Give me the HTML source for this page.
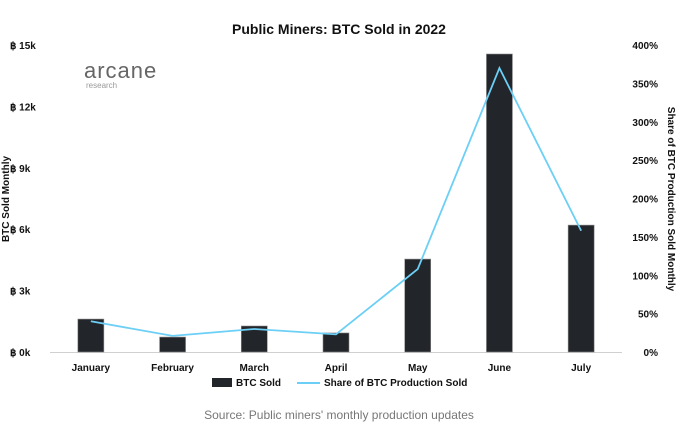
<!DOCTYPE html>
<html><head><meta charset="utf-8"><style>
body{margin:0;background:#fff;font-family:"Liberation Sans",sans-serif}
svg text{font-family:"Liberation Sans",sans-serif}
</style></head><body>
<svg width="678" height="427" id="c">
<text x="339" y="34" text-anchor="middle" font-size="14" font-weight="bold" fill="#111">Public Miners: BTC Sold in 2022</text>
<g>
<text x="84" y="78" font-size="22" fill="#666" letter-spacing="1">arcane</text>
<text x="86" y="88" font-size="8" fill="#999">research</text>
</g>
<text transform="translate(9,199) rotate(-90)" text-anchor="middle" font-size="10" font-weight="bold" fill="#111">BTC Sold Monthly</text>
<text transform="translate(668,199) rotate(90)" text-anchor="middle" font-size="10" font-weight="bold" fill="#111">Share of BTC Production Sold Monthly</text>
<g id="plot"></g>
<g>
<rect x="212" y="378" width="20" height="9" fill="#222529"/>
<text x="236" y="386" font-size="10" font-weight="bold" fill="#111">BTC Sold</text>
<line x1="297" y1="383" x2="320" y2="383" stroke="#6ccff6" stroke-width="2"/>
<text x="324" y="386" font-size="10" font-weight="bold" fill="#111">Share of BTC Production Sold</text>
</g>
<text x="339" y="419" text-anchor="middle" font-size="12" fill="#777">Source: Public miners' monthly production updates</text>
</svg>
<script>
const categories=["January","February","March","April","May","June","July"];
const btcSold=[1610,730,1270,930,4540,14560,6200];
const sharePct=[40,21,30,23,108,370,158];
const leftTicks=[0,3000,6000,9000,12000,15000];
const leftTickLabels=["฿ 0k","฿ 3k","฿ 6k","฿ 9k","฿ 12k","฿ 15k"];
const rightTicks=[0,50,100,150,200,250,300,350,400];

const NS="http://www.w3.org/2000/svg";
const g=document.getElementById('plot');
const x0=50,x1=622,yTop=45,yBot=352;
const step=(x1-x0)/categories.length;
const xc=i=>x0+step*(i+0.5);
const yL=v=>yBot-(v/15000)*(yBot-yTop);
const yR=v=>yBot-(v/400)*(yBot-yTop);
function mk(t,a){const e=document.createElementNS(NS,t);for(const k in a)e.setAttribute(k,a[k]);g.appendChild(e);return e;}
leftTicks.forEach((v,i)=>{const t=mk('text',{x:10,y:yL(v)+4,'font-size':10,'font-weight':'bold',fill:'#111'});t.textContent=leftTickLabels[i];

});
rightTicks.forEach(v=>{const t=mk('text',{x:658,y:yR(v)+4,'font-size':10,'font-weight':'bold',fill:'#111','text-anchor':'end'});t.textContent=v+'%';

});
const ax=mk('line',{x1:x0,x2:x1,y1:yBot+0.5,y2:yBot+0.5,stroke:'#d0d0d0'});


categories.forEach((c,i)=>{
const b=mk('rect',{x:xc(i)-13,y:yL(btcSold[i]),width:26,height:yBot-yL(btcSold[i]),fill:'#222529',stroke:'#8a8a8a','stroke-width':0.6});


const t=mk('text',{x:xc(i),y:371,'font-size':10,'font-weight':'bold',fill:'#111','text-anchor':'middle'});t.textContent=c;


});
const pl=mk('polyline',{points:sharePct.map((v,i)=>xc(i)+','+yR(v)).join(' '),fill:'none',stroke:'#6ccff6','stroke-width':1.8});


</script>
</body></html>
